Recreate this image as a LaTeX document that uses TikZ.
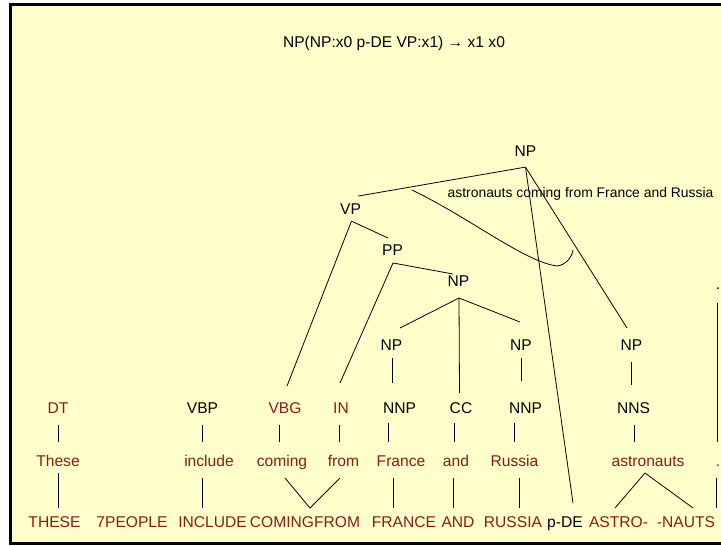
\documentclass[tikz,border=0pt]{standalone}
\usepackage{fontspec}
\setmainfont{Liberation Sans}
\definecolor{paper}{RGB}{255,255,204}
\definecolor{wordred}{RGB}{139,26,26}
\begin{document}
\begin{tikzpicture}[x=1pt,y=-1pt,
  every node/.style={inner sep=0pt, anchor=base, font=\fontsize{15.6}{18}\selectfont},
  lex/.style={text=wordred},
  gloss/.style={font=\fontsize{13.9}{16}\selectfont},
  link/.style={line width=0.8pt},
  frame/.style={line width=3pt, fill=paper},
]
\useasboundingbox (0,0) rectangle (721,546);
\begin{scope}
\clip (0,0) rectangle (721,546);
\draw[frame] (10,4) rectangle (760,543.7);
\end{scope}

% rule header
\node (title) at (394,47.6) {NP(NP:x0 p-DE VP:x1) → x1 x0};

% tree nodes
\node (root) at (525.5,156.6) {NP};
\node (vp)   at (350.5,214.1) {VP};
\node (pp)   at (392.5,255.6) {PP};
\node (npm)  at (458.5,286.6) {NP};
\node (npa)  at (391.5,350) {NP};
\node (npb)  at (521,350) {NP};
\node (npc)  at (631.5,350) {NP};
\node[gloss] (gl) at (580.5,197) {astronauts coming from France and Russia};
\node (dottag) at (718,289) {.};

% part-of-speech tags
\node[lex] (dt)  at (58,413.5)    {DT};
\node      (vbp) at (202.5,413.5) {VBP};
\node[lex] (vbg) at (285,413.5)   {VBG};
\node[lex] (in)  at (341,413.5)   {IN};
\node      (nnpa) at (399.5,413.5) {NNP};
\node      (cc)  at (461,413.5)   {CC};
\node      (nnpb) at (525.5,413.5) {NNP};
\node      (nns) at (633.5,413.5) {NNS};

% English words
\node[lex] (these)   at (58,466.5)    {These};
\node[lex] (include) at (209,466.5)   {include};
\node[lex] (coming)  at (282,466.5)   {coming};
\node[lex] (from)    at (343.5,466.5) {from};
\node[lex] (france)  at (401,466.5)   {France};
\node[lex] (and)     at (456,466.5)   {and};
\node[lex] (russia)  at (514.5,466.5) {Russia};
\node[lex] (astro)   at (648,466.5)   {astronauts};
\node[lex] (dotword) at (718,466.5)   {.};

% source tokens
\node[lex] (tTHESE)  at (54.5,527)  {THESE};
\node[lex] (tPEOPLE) at (132,527)   {7PEOPLE};
\node[lex] (tINCL)   at (212.5,527) {INCLUDE};
\node[lex] (tCF)     at (305,527)   {COMINGFROM};
\node[lex] (tFRANCE) at (404,527)   {FRANCE};
\node[lex] (tAND)    at (458,527)   {AND};
\node[lex] (tRUSSIA) at (513,527)   {RUSSIA};
\node      (pde)     at (565,527)   {p-DE};
\node[lex] (tASTRO)  at (618.5,527) {ASTRO-};
\node[lex] (tNAUTS)  at (686,527)   {-NAUTS};
\coordinate (tnext) at (716,508);

% tree edges
\draw[link] ([shift={(0,10.5)}]root.base) -- ([shift={(7.5,-18)}]vp.base);
\draw[link] ([shift={(0,10.5)}]root.base) -- ([shift={(8,-24)}]pde.base);
\draw[link] ([shift={(0,10.5)}]root.base) -- ([shift={(-4.5,-22)}]npc.base);
\draw[link] ([shift={(1,7)}]vp.base) -- ([shift={(-4.5,-17.6)}]pp.base);
\draw[link] ([shift={(1,7)}]vp.base) -- ([shift={(2,-27.5)}]vbg.base);
\draw[link] ([shift={(0.5,7.4)}]pp.base) -- ([shift={(-5.5,-12.6)}]npm.base);
\draw[link] ([shift={(0.5,7.4)}]pp.base) -- ([shift={(-1,-30.5)}]in.base);
\draw[link] ([shift={(0.5,11.4)}]npm.base) -- ([shift={(8.5,-22)}]npa.base);
\draw[link] ([shift={(0.5,11.4)}]npm.base) -- ([shift={(-1,-28)}]npb.base);
\draw[link] ([shift={(0.5,11.4)}]npm.base) -- ([shift={(-1.5,-20.5)}]cc.base);
\draw[link] ([shift={(0.5,8)}]npa.base) -- ([shift={(-7.5,-30.5)}]nnpa.base);
\draw[link] ([shift={(0,8)}]npb.base) -- ([shift={(-4.5,-32.5)}]nnpb.base);
\draw[link] ([shift={(-0.5,12)}]npc.base) -- ([shift={(-2.5,-28.5)}]nns.base);

% reordering arc
\draw[link] (412,190) .. controls (470,218) and (525,262) .. (557,266)
            .. controls (566,265) and (572,257) .. (573,250);

% tag to word
\draw[link] ([shift={(0,11.5)}]dt.base) -- ([shift={(0,-24.5)}]these.base);
\draw[link] ([shift={(-0.5,11.5)}]vbp.base) -- ([shift={(-7,-24.5)}]include.base);
\draw[link] ([shift={(-6,11.5)}]vbg.base) -- ([shift={(-3,-24.5)}]coming.base);
\draw[link] ([shift={(-2,11.5)}]in.base) -- ([shift={(-4.5,-24.5)}]from.base);
\draw[link] ([shift={(-11.5,9.5)}]nnpa.base) -- ([shift={(-13,-24.5)}]france.base);
\draw[link] ([shift={(-7,9.5)}]cc.base) -- ([shift={(-2,-24.5)}]and.base);
\draw[link] ([shift={(-11.5,9.5)}]nnpb.base) -- ([shift={(-0.5,-24.5)}]russia.base);
\draw[link] ([shift={(0.5,11.5)}]nns.base) -- ([shift={(-14,-24.5)}]astro.base);
\draw[link] ([shift={(-1,14)}]dottag.base) -- ([shift={(-1,-24.5)}]dotword.base);

% word to token
\draw[link] ([shift={(0,6.5)}]these.base) -- ([shift={(3.5,-19)}]tTHESE.base);
\draw[link] ([shift={(-7,11.5)}]include.base) -- ([shift={(-10.5,-19)}]tINCL.base);
\draw[link] ([shift={(3,11.5)}]coming.base) -- ([shift={(5,-19)}]tCF.base);
\draw[link] ([shift={(-3.5,11.5)}]from.base) -- ([shift={(5,-19)}]tCF.base);
\draw[link] ([shift={(-8,11.5)}]france.base) -- ([shift={(-11,-19)}]tFRANCE.base);
\draw[link] ([shift={(-3,11.5)}]and.base) -- ([shift={(-5,-19)}]tAND.base);
\draw[link] ([shift={(4.5,11.5)}]russia.base) -- ([shift={(6,-19)}]tRUSSIA.base);
\draw[link] ([shift={(-3,6.5)}]astro.base) -- ([shift={(-3.5,-19)}]tASTRO.base);
\draw[link] ([shift={(-3,6.5)}]astro.base) -- ([shift={(7,-19)}]tNAUTS.base);
\draw[link] ([shift={(-2,11.5)}]dotword.base) -- (tnext);
\end{tikzpicture}
\end{document}
